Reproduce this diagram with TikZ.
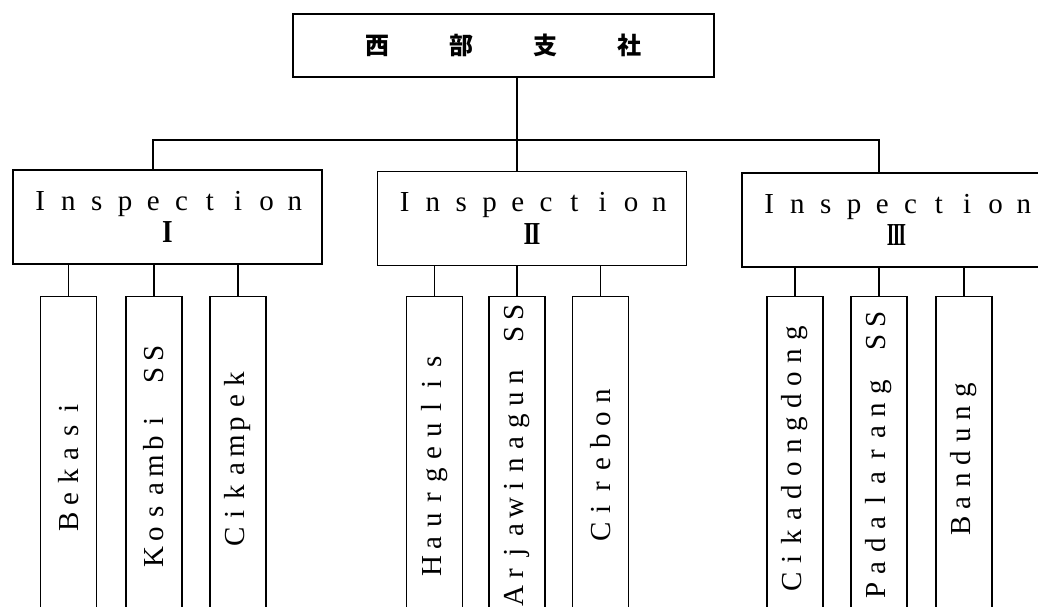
\documentclass[tikz,border=0pt]{standalone}
\usepackage{fontspec}
\usepackage{graphicx}
\setmainfont{Liberation Serif}
\newfontfamily\jpfont{Noto Sans CJK JP}
\makeatletter
\def\lsp@end{LSPEND}
\newcommand\lspaced[2]{\def\lsp@w{#1}\lsp@loop#2\lsp@end}
\def\lsp@loop#1{\ifx#1\lsp@end\else\makebox[\lsp@w]{#1}\expandafter\lsp@loop\fi}
\makeatother
\newcommand\romnum[2]{{\fontsize{32pt}{32.5pt}\selectfont\bfseries\scalebox{#1}[1]{#2}}}
\begin{document}
\begin{tikzpicture}[x=1pt,y=-1pt,
  box/.style={draw, line width=1.7pt, inner sep=0pt, outer sep=0pt},
  link/.style={line width=1.7pt},
  inspbox/.style={box, minimum width=309pt, minimum height=94pt, align=center, font=\fontsize{29pt}{32.5pt}\selectfont},
  leaf/.style={box, minimum width=56pt, font=\fontsize{29pt}{30pt}\selectfont}]
\path[use as bounding box] (0,0) rectangle (1038,607);
\begin{scope}
\clip (0,0) rectangle (1038,607);
% head office
\node[box, minimum width=421pt, minimum height=63pt, font=\jpfont\bfseries\fontsize{24pt}{24pt}\selectfont] (top) at (503.5,45.5) {\lspaced{84pt}{西部支社}};
% inspections
\node[inspbox] (i1) at (167.5,217) {\lspaced{28.3pt}{Inspection}\\\romnum{0.85}{I}};
\node[inspbox] (i2) at (532,218.5) {\lspaced{28.3pt}{Inspection}\\\romnum{0.75}{I\kern-2.5pt I}};
\node[inspbox] (i3) at (896.5,220) {\lspaced{28.3pt}{Inspection}\\\romnum{0.6}{I\kern-2.5pt I\kern-2.5pt I}};
% bus
\coordinate (busL) at (153,140);
\coordinate (busM) at (517,140);
\coordinate (busR) at (879,140);
\draw[link] (top.south -| busM) -- (busM);
\draw[link] (i1.north -| busL) -- (busL) -- (busR) -- (i3.north -| busR);
\draw[link] (busM) -- (i2.north -| busM);
% stations of Inspection I
\node[leaf, minimum height=337pt] (c11) at (68.5,465) {\rotatebox{90}{\lspaced{22.6pt}{Bekasi}}};
\node[leaf, minimum height=317pt] (c12) at (154,455) {\rotatebox{90}{\lspaced{22.6pt}{Kosambi~SS}}};
\node[leaf, minimum height=323pt] (c13) at (238,458) {\rotatebox{90}{\lspaced{22.6pt}{Cikampek}}};
% stations of Inspection II
\node[leaf, minimum height=335pt] (c21) at (434.5,464) {\rotatebox{90}{\lspaced{22.6pt}{Haurgeulis}}};
\node[leaf, minimum height=321pt] (c22) at (517,457) {\rotatebox{90}{\hspace{3pt}\lspaced{21.8pt}{Arjawinagun~SS}\hspace{-3pt}}};
\node[leaf, minimum height=335pt] (c23) at (600.5,464) {\rotatebox{90}{\lspaced{22.6pt}{Cirebon}}};
% stations of Inspection III
\node[leaf, minimum height=323pt] (c31) at (795,458) {\rotatebox{90}{\lspaced{22.6pt}{Cikadongdong}}};
\node[leaf, minimum height=317pt] (c32) at (879,455) {\rotatebox{90}{\lspaced{22.6pt}{Padalarang~SS}}};
\node[leaf, minimum height=323pt] (c33) at (964,458) {\rotatebox{90}{\lspaced{22.6pt}{Bandung}}};
% connectors
\foreach \c/\p in {c11/i1,c12/i1,c13/i1,c21/i2,c22/i2,c23/i2,c31/i3,c32/i3,c33/i3}
  \draw[link] (\c.north) -- (\c.north |- \p.south);
\end{scope}
\end{tikzpicture}
\end{document}
